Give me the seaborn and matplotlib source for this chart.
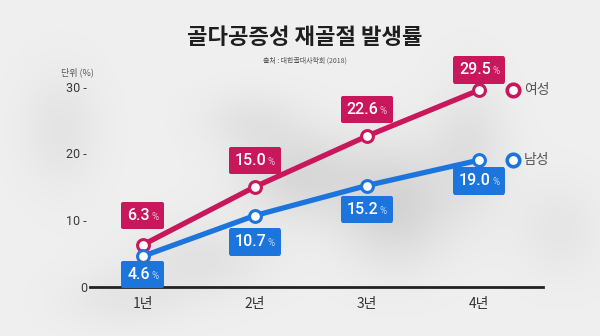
import numpy as np
import pandas as pd
import matplotlib
matplotlib.use("Agg")
import matplotlib.pyplot as plt
import seaborn as sns
from matplotlib.offsetbox import AnnotationBbox, TextArea, HPacker

years = ["1년", "2년", "3년", "4년"]
women = [6.3, 15.0, 22.6, 29.5]
men = [4.6, 10.7, 15.2, 19.0]
series_names = ["여성", "남성"]
y_ticks = [0, 10, 20, 30]

title = "골다공증성 재골절 발생률"
source = "출처 : 대한골대사학회 (2018)"
unit = "단위 (%)"

colors = {"여성": "#C9175C", "남성": "#1C74DD"}
pct_colors = {"여성": "#F2BFD3", "남성": "#BBD6F6"}
KR = ["Noto Sans CJK KR", "DejaVu Sans"]

df = pd.DataFrame({
    "pos": list(range(len(years))) * 2,
    "rate": women + men,
    "sex": [series_names[0]] * len(women) + [series_names[1]] * len(men),
})

sns.set_theme(style="white")
plt.rcParams["font.family"] = KR

fig = plt.figure(figsize=(6.0, 3.36), dpi=100)
fig.patch.set_facecolor("#EDEDED")

# soft grey shapes behind the chart
bg = fig.add_axes([0, 0, 1, 1], zorder=-5)
gx, gy = np.meshgrid(np.linspace(0, 600, 300), np.linspace(0, 336, 168))
field = np.zeros_like(gx)
for cx, cy, sx, sy, a in [(300, 175, 60, 45, 0.6), (395, 205, 55, 60, 0.7),
                          (200, 260, 70, 40, 0.35), (470, 150, 40, 70, 0.4),
                          (60, 130, 40, 60, 0.3), (560, 230, 45, 50, 0.25),
                          (250, 120, 50, 30, 0.3), (120, 300, 60, 30, 0.25)]:
    field += a * np.exp(-(((gx - cx) / sx) ** 2 + ((gy - cy) / sy) ** 2))
field = np.clip(field, 0, 1)
base = np.array([0.94, 0.94, 0.94])
dark = np.array([0.79, 0.79, 0.79])
img = base[None, None, :] * (1 - field[..., None]) + dark[None, None, :] * field[..., None]
bg.imshow(img, extent=[0, 600, 336, 0], aspect="auto")
bg.set_xlim(0, 600)
bg.set_ylim(336, 0)
bg.axis("off")

ax = fig.add_axes([90 / 600, 49 / 336, 453 / 600, 237 / 336])
ax.set_facecolor("none")

sns.lineplot(data=df, x="pos", y="rate", hue="sex", palette=colors,
             hue_order=series_names, marker="o", markersize=8.5,
             linewidth=3.8, ax=ax, legend=False, zorder=3)
for line in ax.lines:
    line.set_markerfacecolor("white")
    line.set_markeredgecolor(line.get_color())
    line.set_markeredgewidth(2.2)
    line.set_solid_capstyle("round")

ax.set_xlim(-0.47, 3.57)
ax.set_ylim(0, 35.5)
ax.set_xticks(range(len(years)))
ax.set_xticklabels(years, fontsize=10, color="#333333")
ax.set_yticks(y_ticks)
ax.set_yticklabels([f"{t} -" if t else f"{t}" for t in y_ticks],
                   fontsize=9, color="#3a3a3a", family="Roboto")
ax.tick_params(axis="both", length=0)
ax.tick_params(axis="x", pad=7)
ax.tick_params(axis="y", pad=2)
ax.set_xlabel("")
ax.set_ylabel("")
for side in ["top", "right", "left"]:
    ax.spines[side].set_visible(False)
ax.spines["bottom"].set_color("#222222")
ax.spines["bottom"].set_linewidth(2.0)


def value_box(x, v, name, dy):
    num = TextArea(f"{v:.1f}", textprops=dict(color="white", fontsize=11.5,
                                               fontweight="medium", family="Roboto"))
    pct = TextArea("%", textprops=dict(color=pct_colors[name], fontsize=7,
                                       family="Roboto"))
    pack = HPacker(children=[num, pct], align="baseline", pad=0, sep=1)
    ab = AnnotationBbox(pack, (x, v), xybox=(0, dy), xycoords="data",
                        boxcoords="offset points", frameon=True, pad=0.25,
                        bboxprops=dict(boxstyle="round,pad=0.4,rounding_size=0.15",
                                       fc=colors[name], ec="none"), zorder=5)
    ax.add_artist(ab)


w_off = [21, 19, 19, 14.5]
m_off = [-13, -19, -17, -15]
for i, v in enumerate(women):
    value_box(i, v, "여성", w_off[i])
for i, v in enumerate(men):
    value_box(i, v, "남성", m_off[i])

# end-of-line series keys
for name, vals in zip(series_names, [women, men]):
    ax.plot([3.3], [vals[-1]], marker="o", markersize=9, mfc="white",
            mec=colors[name], mew=2.6, linestyle="none", clip_on=False, zorder=4)
    ax.annotate(name, (3.3, vals[-1]), xytext=(8, 0), textcoords="offset points",
                va="center", ha="left", fontsize=10, color="#555555",
                annotation_clip=False)

fig.text(305 / 600, 1 - 38 / 336, title, ha="center", va="center",
         fontsize=16, fontweight="black", color="#1e1e1e")
fig.text(305 / 600, 1 - 61 / 336, source, ha="center", va="center",
         fontsize=5, color="#555555")
fig.text(61 / 600, 1 - 72 / 336, unit, ha="left", va="center",
         fontsize=6.5, color="#555555")

fig.savefig("out.png", dpi=100, facecolor=fig.get_facecolor())
